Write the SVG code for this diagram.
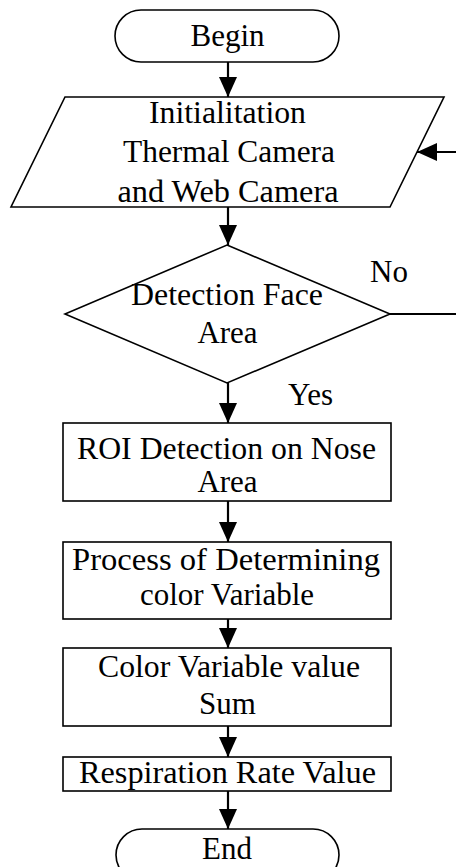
<svg xmlns="http://www.w3.org/2000/svg" width="456" height="867" viewBox="0 0 456 867">
<defs>
<style>
.shape{fill:#fff;stroke:#000;stroke-width:1.6}
.t{font-family:'Liberation Serif','DejaVu Serif',serif;font-size:31px;fill:#000;text-anchor:middle}
.lbl{font-family:'Liberation Serif','DejaVu Serif',serif;font-size:31px;fill:#000}
.conn{stroke:#000;stroke-width:2.2;fill:none}
</style>
<marker id="ah" markerUnits="userSpaceOnUse" markerWidth="21" markerHeight="19" refX="20" refY="9" orient="auto" viewBox="0 0 21 19">
<path d="M0,0 L20,9 L0,18 z" fill="#000"/>
</marker>
</defs>
<rect width="456" height="867" fill="#fff"/>
<g id="connectors">
<line class="conn" x1="228" y1="62" x2="228" y2="97" marker-end="url(#ah)"/>
<line class="conn" x1="228" y1="207" x2="228" y2="245" marker-end="url(#ah)"/>
<line class="conn" x1="228" y1="383" x2="228" y2="423" marker-end="url(#ah)"/>
<line class="conn" x1="228" y1="501" x2="228" y2="542" marker-end="url(#ah)"/>
<line class="conn" x1="228" y1="619" x2="228" y2="648" marker-end="url(#ah)"/>
<line class="conn" x1="228" y1="726" x2="228" y2="757" marker-end="url(#ah)"/>
<line class="conn" x1="228" y1="791" x2="228" y2="829" marker-end="url(#ah)"/>
<line class="conn" x1="390" y1="314" x2="458" y2="314"/>
<line class="conn" x1="458" y1="152" x2="417" y2="152" marker-end="url(#ah)"/>
<text class="lbl" x="370" y="282">No</text>
<text class="lbl" x="288" y="405">Yes</text>
</g>
<g id="begin">
<rect class="shape" x="115" y="10" width="224" height="52" rx="26"/>
<text class="t" x="227.5" y="46">Begin</text>
</g>
<g id="init">
<polygon class="shape" points="65,97 444,97 390,207 11,207"/>
<text class="t" x="227.5" y="123" textLength="157" lengthAdjust="spacingAndGlyphs">Initialitation</text>
<text class="t" x="229" y="162" textLength="212" lengthAdjust="spacingAndGlyphs">Thermal Camera</text>
<text class="t" x="228" y="202" textLength="221" lengthAdjust="spacingAndGlyphs">and Web Camera</text>
</g>
<g id="detect">
<polygon class="shape" points="227,245 390,314 227,383 65,314"/>
<text class="t" x="227" y="305" textLength="192" lengthAdjust="spacingAndGlyphs">Detection Face</text>
<text class="t" x="227.5" y="343">Area</text>
</g>
<g id="roi">
<rect class="shape" x="63" y="423" width="328" height="78"/>
<text class="t" x="226.5" y="459" textLength="299" lengthAdjust="spacingAndGlyphs">ROI Detection on Nose</text>
<text class="t" x="227.5" y="492">Area</text>
</g>
<g id="process">
<rect class="shape" x="63" y="542" width="328" height="77"/>
<text class="t" x="226" y="570" textLength="308" lengthAdjust="spacingAndGlyphs">Process of Determining</text>
<text class="t" x="227" y="605">color Variable</text>
</g>
<g id="sum">
<rect class="shape" x="63" y="648" width="328" height="78"/>
<text class="t" x="229" y="677" textLength="262" lengthAdjust="spacingAndGlyphs">Color Variable value</text>
<text class="t" x="227.5" y="714">Sum</text>
</g>
<g id="rate">
<rect class="shape" x="63" y="757" width="328" height="34"/>
<text class="t" x="227.5" y="783" textLength="297" lengthAdjust="spacingAndGlyphs">Respiration Rate Value</text>
</g>
<g id="end">
<rect class="shape" x="116" y="829" width="223" height="52" rx="26"/>
<text class="t" x="227" y="859">End</text>
</g>
</svg>
